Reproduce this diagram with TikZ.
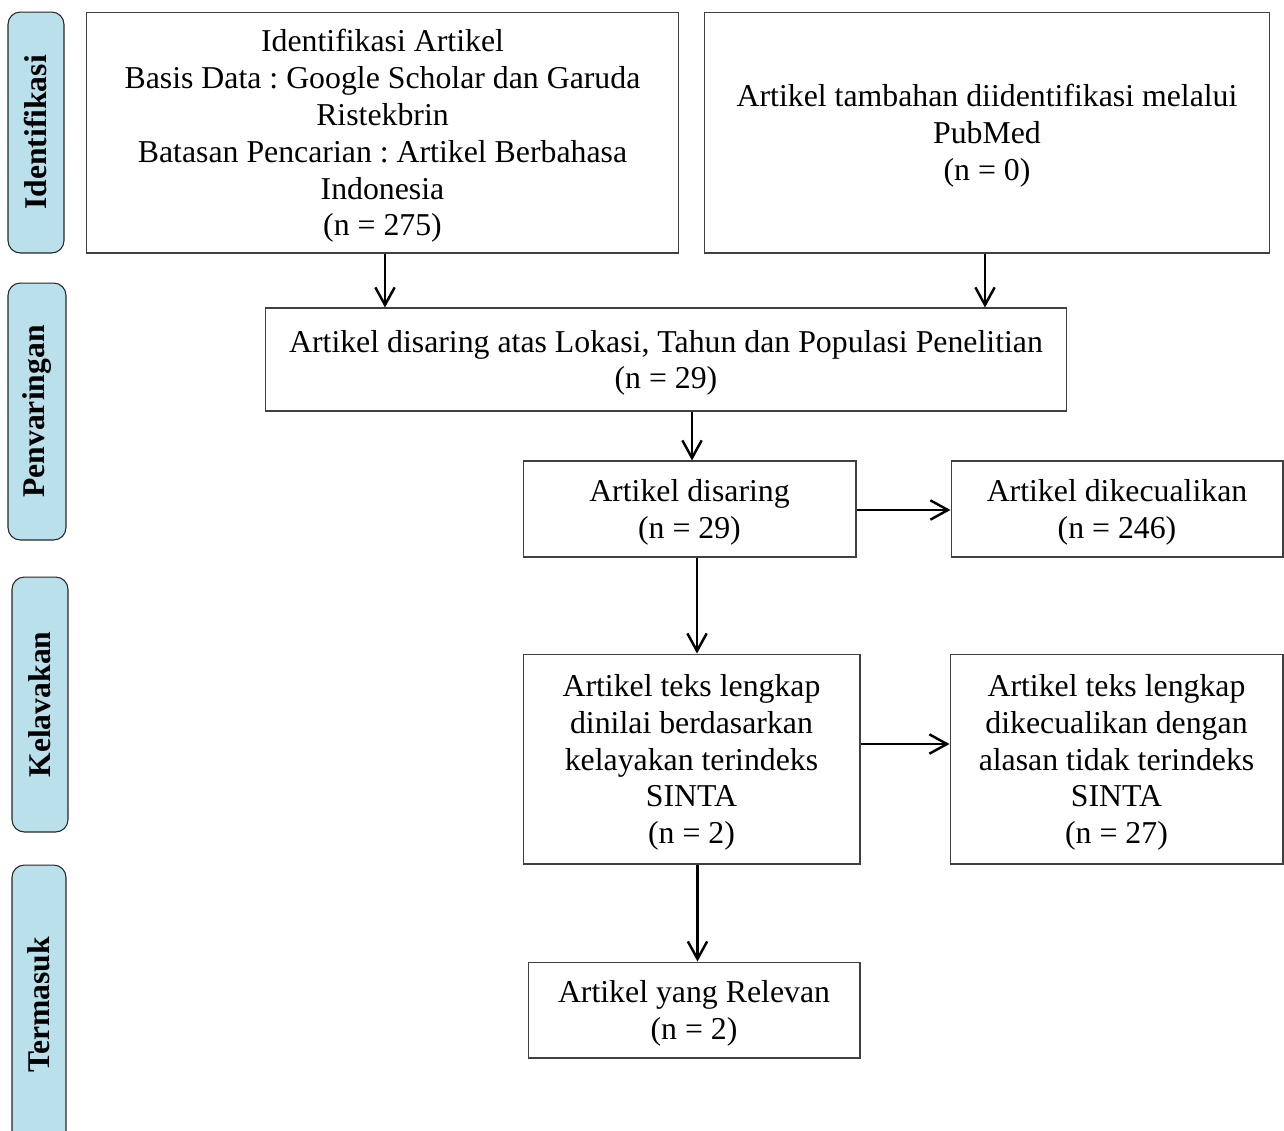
\documentclass[tikz,border=0pt]{standalone}
\usepackage{fontspec}
\setmainfont{Liberation Serif}
\usetikzlibrary{arrows.meta}
\definecolor{barblue}{RGB}{185,224,235}
\frenchspacing
\tikzset{
  box/.style={draw=black!75, line width=0.6pt, rectangle, align=center,
    inner sep=2pt, text depth=-1.5pt, font=\fontsize{18.1}{21}\selectfont},
  phase/.style={draw=black!85, fill=barblue, line width=0.6pt, rounded corners=7pt,
    rotate=90, minimum height=1.12cm, font=\fontsize{18}{21.5}\selectfont\bfseries},
  flow/.style={line width=1.4pt, -{Straight Barb[length=10pt,width=11pt,line width=1.4pt]}}
}
\begin{document}
\begin{tikzpicture}[x=0.02cm, y=-0.02cm]
\useasboundingbox (0,0) rectangle (1284,1130);

% phase bars
\node[phase, minimum width=4.82cm] (idf) at (36,132.5) {Identifikasi};
\node[phase, minimum width=5.14cm, minimum height=1.16cm] (pnv) at (37,411.5) {Penvaringan};
\node[phase, minimum width=5.1cm] (klv) at (40,704.5) {Kelavakan};
\node[phase, minimum width=5.6cm, minimum height=1.08cm] (trm) at (39,1005) {Termasuk};

% boxes
\node[box, minimum width=11.86cm, minimum height=4.82cm] (ident) at (382.5,132.5)
  {Identifikasi Artikel\\Basis Data : Google Scholar dan Garuda\\Ristekbrin\\Batasan Pencarian : Artikel Berbahasa\\Indonesia\\(n = 275)};
\node[box, minimum width=11.32cm, minimum height=4.82cm] (pubmed) at (987,132.5)
  {Artikel tambahan diidentifikasi melalui\\PubMed\\(n = 0)};
\node[box, minimum width=16.04cm, minimum height=2.06cm] (saring) at (666,359.5)
  {Artikel disaring atas Lokasi, Tahun dan Populasi Penelitian\\(n = 29)};
\node[box, minimum width=6.66cm, minimum height=1.92cm] (disaring) at (689.5,509)
  {Artikel disaring\\(n = 29)};
\node[box, minimum width=6.64cm, minimum height=1.92cm] (kecuali) at (1117,509)
  {Artikel dikecualikan\\(n = 246)};
\node[box, minimum width=6.74cm, minimum height=4.2cm] (lengkap) at (691.5,759)
  {Artikel teks lengkap\\dinilai berdasarkan\\kelayakan terindeks\\SINTA\\(n = 2)};
\node[box, minimum width=6.66cm, minimum height=4.2cm] (tolak) at (1116.5,759)
  {Artikel teks lengkap\\dikecualikan dengan\\alasan tidak terindeks\\SINTA\\(n = 27)};
\node[box, minimum width=6.64cm, minimum height=1.92cm] (relevan) at (694,1010)
  {Artikel yang Relevan\\(n = 2)};

% arrows
\draw[flow] ([xshift=0.05cm]ident.south) -- ([xshift=0.05cm]ident.south |- saring.north);
\draw[flow] ([xshift=-0.04cm]pubmed.south) -- ([xshift=-0.04cm]pubmed.south |- saring.north);
\draw[flow] ([xshift=0.05cm]disaring.north |- saring.south) -- ([xshift=0.05cm]disaring.north);
\draw[flow] ([xshift=0.15cm]disaring.south) -- ([xshift=0.15cm]disaring.south |- lengkap.north);
\draw[flow] ([xshift=0.12cm]lengkap.south) -- ([xshift=0.12cm]lengkap.south |- relevan.north);
\draw[flow] ([yshift=-0.02cm]disaring.east) -- ([yshift=-0.02cm]kecuali.west);
\draw[flow] ([yshift=0.3cm]lengkap.east) -- ([yshift=0.3cm]tolak.west);
\end{tikzpicture}
\end{document}
